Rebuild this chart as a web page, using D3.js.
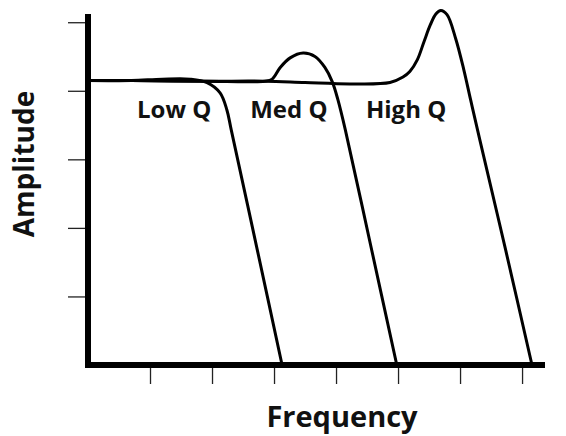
<!DOCTYPE html>
<html>
<head>
<meta charset="utf-8">
<script src="https://cdn.jsdelivr.net/npm/d3@7"></script>
<style>
  body { margin: 0; background: #fff; }
  svg { display: block; }
  text { font-family: "Open Sans", sans-serif; font-weight: 700; fill: #111; }
</style>
</head>
<body>
<svg width="566" height="436"></svg>
<script>
// filter responses (frequency units, amplitude units)
var lowQ = [[0, 4.15], [0.7, 4.15], [1.2, 4.17], [1.65, 4.17], [1.92, 4.12], [2.13, 3.97],
  [2.24, 3.72], [2.31, 3.43], [2.73, 1.68], [3.13, 0]];
var medQ = [[0, 4.15], [0.7, 4.15], [1.9, 4.14], [2.85, 4.14], [2.97, 4.17], [3.10, 4.34],
  [3.26, 4.48], [3.47, 4.55], [3.66, 4.50], [3.82, 4.34], [3.94, 4.13], [4.03, 3.87],
  [4.15, 3.43], [4.56, 1.74], [4.98, 0]];
var highQ = [[0, 4.15], [0.7, 4.15], [1.9, 4.14], [2.85, 4.14], [3.5, 4.12], [4.23, 4.10],
  [4.87, 4.12], [5.08, 4.2], [5.19, 4.28], [5.31, 4.45], [5.42, 4.72], [5.52, 4.96],
  [5.61, 5.12], [5.69, 5.17], [5.79, 5.11], [5.93, 4.76], [6.06, 4.31], [6.17, 3.87],
  [6.32, 3.28], [6.74, 1.66], [7.16, 0]];

var seriesNames = ["Low Q", "Med Q", "High Q"];
var labelAt = [[1.39, 3.6], [3.24, 3.6], [5.13, 3.6]];
var xTicks = [1, 2, 3, 4, 5, 6, 7];
var yTicks = [1, 2, 3, 4, 5];

var svg = d3.select("svg");

var x = d3.scaleLinear().domain([0, 7.37]).range([88, 545]);
var y = d3.scaleLinear().domain([0, 5.12]).range([365, 14]);

var line = d3.line()
  .x(d => x(d[0]))
  .y(d => y(d[1]))
  .curve(d3.curveCatmullRom.alpha(0.5));

// curves
svg.append("g")
  .selectAll("path")
  .data([lowQ, medQ, highQ])
  .enter().append("path")
  .attr("d", line)
  .attr("fill", "none")
  .attr("stroke", "#000")
  .attr("stroke-width", 3)
  .attr("stroke-linejoin", "round");

// ticks
var xAxis = svg.append("g")
  .attr("transform", "translate(0," + y(0) + ")")
  .call(d3.axisBottom(x).tickValues(xTicks).tickSize(19).tickFormat(""));
var yAxis = svg.append("g")
  .attr("transform", "translate(" + x(0) + ",0)")
  .call(d3.axisLeft(y).tickValues(yTicks).tickSize(20).tickFormat(""));
[xAxis, yAxis].forEach(function (g) {
  g.select(".domain").remove();
  g.selectAll(".tick line").attr("stroke", "#222").attr("stroke-width", 1.3);
});

// thick axis lines
svg.append("line")
  .attr("x1", x(0) - 3).attr("x2", x(7.37))
  .attr("y1", y(0)).attr("y2", y(0))
  .attr("stroke", "#000").attr("stroke-width", 6);
svg.append("line")
  .attr("x1", x(0)).attr("x2", x(0))
  .attr("y1", y(0) + 3).attr("y2", y(5.12))
  .attr("stroke", "#000").attr("stroke-width", 6);

// curve labels
svg.append("g")
  .selectAll("text")
  .data(seriesNames)
  .enter().append("text")
  .attr("x", (d, i) => x(labelAt[i][0]))
  .attr("y", (d, i) => y(labelAt[i][1]))
  .attr("text-anchor", "middle")
  .attr("font-size", 24)
  .text(d => d);

// axis titles
svg.append("text")
  .attr("x", 342).attr("y", 427)
  .attr("text-anchor", "middle")
  .attr("font-size", 29)
  .text("Frequency");
svg.append("text")
  .attr("transform", "translate(34,164) rotate(-90)")
  .attr("text-anchor", "middle")
  .attr("font-size", 28)
  .text("Amplitude");
</script>
</body>
</html>
